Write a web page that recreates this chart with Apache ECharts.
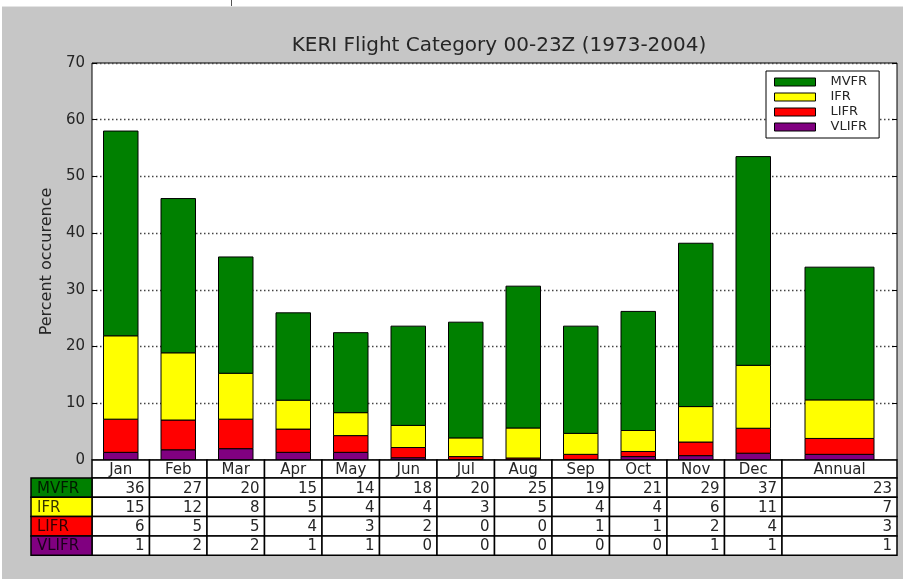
<!DOCTYPE html>
<html>
<head>
<meta charset="utf-8">
<script src="https://cdn.jsdelivr.net/npm/echarts@6/dist/echarts.min.js"></script>
<style>
  html, body { margin: 0; padding: 0; background: #ffffff; }
  #main { width: 903px; height: 579px; }
</style>
</head>
<body>
<div id="main"></div>
<script>
// categories (Annual takes two slots in the picture)
const categories = ['Jan', 'Feb', 'Mar', 'Apr', 'May', 'Jun', 'Jul', 'Aug', 'Sep', 'Oct', 'Nov', 'Dec', 'Annual'];

// bar heights, percent
const vlifr = [1.35, 1.8, 2.0, 1.35, 1.35, 0.4, 0.1, 0.05, 0.1, 0.6, 0.77, 1.2, 1.0];
const lifr  = [5.85, 5.25, 5.2, 4.1, 2.95, 1.8, 0.5, 0.3, 0.9, 0.9, 2.4, 4.4, 2.8];
const ifr   = [14.7, 11.85, 8.1, 5.1, 4.05, 3.9, 3.3, 5.3, 3.7, 3.7, 6.25, 11.1, 6.8];
const mvfr  = [36.1, 27.2, 20.5, 15.4, 14.1, 17.5, 20.4, 25.0, 18.9, 21.0, 28.8, 36.8, 23.4];

// rounded numbers printed in the table
const tableMVFR  = [36, 27, 20, 15, 14, 18, 20, 25, 19, 21, 29, 37, 23];
const tableIFR   = [15, 12, 8, 5, 4, 4, 3, 5, 4, 4, 6, 11, 7];
const tableLIFR  = [6, 5, 5, 4, 3, 2, 0, 0, 1, 1, 2, 4, 3];
const tableVLIFR = [1, 2, 2, 1, 1, 0, 0, 0, 0, 0, 1, 1, 1];

const yTicks = [0, 10, 20, 30, 40, 50, 60, 70];

const FONT = '"DejaVu Sans", "Liberation Sans", sans-serif';
const TXT = '#262626';

// layer order bottom -> top
const layers = [
    { name: 'VLIFR', color: '#800080', values: vlifr, table: tableVLIFR },
    { name: 'LIFR', color: '#ff0000', values: lifr, table: tableLIFR },
    { name: 'IFR', color: '#ffff00', values: ifr, table: tableIFR },
    { name: 'MVFR', color: '#008000', values: mvfr, table: tableMVFR }
];

// slot position of each category on the x value axis
function slotOf(i) {
    if (categories[i] === 'Annual') return { start: 12, span: 2 };
    return { start: i, span: 1 };
}

// build stacked [center, bottom, top, width] rows
const cum = categories.map(() => 0);
const series = layers.map(function (layer) {
    const data = categories.map(function (c, i) {
        const s = slotOf(i);
        const bottom = cum[i];
        cum[i] += layer.values[i];
        return [s.start + s.span / 2, bottom, cum[i], 0.6 * s.span];
    });
    return {
        name: layer.name,
        type: 'custom',
        itemStyle: { color: layer.color, borderColor: '#000', borderWidth: 1 },
        encode: { x: 0, y: [1, 2] },
        data: data,
        renderItem: function (params, api) {
            const x = api.value(0), y0 = api.value(1), y1 = api.value(2), w = api.value(3);
            const p0 = api.coord([x - w / 2, y1]);
            const p1 = api.coord([x + w / 2, y0]);
            return {
                type: 'rect',
                shape: { x: p0[0], y: p0[1], width: p1[0] - p0[0], height: p1[1] - p0[1] },
                style: { fill: layer.color, stroke: '#000', lineWidth: 1 }
            };
        }
    };
});

const chart = echarts.init(document.getElementById('main'), null, { renderer: 'canvas' });

const option = {
    animation: false,
    backgroundColor: '#c6c6c6',
    title: {
        text: 'KERI Flight Category 00-23Z (1973-2004)',
        left: 494,
        top: 31,
        textAlign: 'center',
        textStyle: { fontFamily: FONT, fontSize: 20, fontWeight: 'normal', color: TXT }
    },
    legend: {
        orient: 'vertical',
        left: 766,
        top: 71,
        padding: [4, 12, 4, 8],
        itemWidth: 41,
        itemHeight: 8,
        itemGap: 1,
        backgroundColor: '#fff',
        borderColor: '#000',
        borderWidth: 1,
        textStyle: { fontFamily: FONT, fontSize: 13, color: TXT, lineHeight: 14, padding: [0, 0, 0, 10] },
        data: layers.slice().reverse().map(function (l) {
            return { name: l.name, icon: 'rect', itemStyle: { color: l.color, borderColor: '#000', borderWidth: 1 } };
        })
    },
    grid: {
        left: 92, top: 63, right: 6, bottom: 119,
        show: true, backgroundColor: '#fff', borderColor: '#000', borderWidth: 1
    },
    xAxis: { type: 'value', min: 0, max: 14, show: false },
    yAxis: [
        {
            type: 'value', min: 0, max: 70, interval: 10,
            name: 'Percent occurence',
            nameLocation: 'middle',
            nameGap: 32,
            nameTextStyle: { fontFamily: FONT, fontSize: 16, color: TXT },
            axisLine: { show: false },
            axisTick: { show: true, inside: true, length: 5, lineStyle: { color: '#000' } },
            axisLabel: {
                fontFamily: FONT, fontSize: 15, color: TXT, margin: 7,
                formatter: function (v) { return yTicks.indexOf(v) >= 0 ? String(v) : ''; }
            },
            splitLine: {
                show: true,
                lineStyle: { color: '#444', width: 1.3, type: [1.5, 2.5] }
            }
        },
        {
            type: 'value', min: 0, max: 70, interval: 10, position: 'right',
            axisLine: { show: false },
            axisTick: { show: true, inside: true, length: 5, lineStyle: { color: '#000' } },
            axisLabel: { show: false },
            splitLine: { show: false }
        }
    ],
    series: series
};

chart.setOption(option);

// the table below the plot, aligned to the x axis slots
function buildTable() {
    const g = [];
    const font = '15px ' + FONT;
    const bottomY = chart.convertToPixel({ gridIndex: 0 }, [0, 0])[1];
    const headH = 18;
    const rowH = 19.3;
    const labelLeft = 31;
    const labelRight = chart.convertToPixel({ gridIndex: 0 }, [0, 0])[0];

    // white strip at the very top of the image
    g.push({ type: 'rect', shape: { x: 0, y: 0, width: 903, height: 6 }, style: { fill: '#fff' }, z: 100 });
    g.push({ type: 'rect', shape: { x: 0, y: 6, width: 903, height: 1 }, style: { fill: '#e4e4e4' }, z: 100 });
    g.push({ type: 'rect', shape: { x: 0, y: 0, width: 2, height: 579 }, style: { fill: '#fff' }, z: 100 });
    g.push({ type: 'line', shape: { x1: 231.5, y1: 0, x2: 231.5, y2: 6 }, style: { stroke: '#555', lineWidth: 1 }, z: 100 });

    categories.forEach(function (c, i) {
        const s = slotOf(i);
        const x0 = chart.convertToPixel({ gridIndex: 0 }, [s.start, 0])[0];
        const x1 = chart.convertToPixel({ gridIndex: 0 }, [s.start + s.span, 0])[0];
        // header cell
        g.push({ type: 'rect', shape: { x: x0, y: bottomY, width: x1 - x0, height: headH },
            style: { fill: '#fff', stroke: '#000', lineWidth: 1.5 }, z: 10 });
        g.push({ type: 'text', x: (x0 + x1) / 2, y: bottomY + headH / 2 + 1,
            style: { text: c, font: font, fill: TXT, align: 'center', verticalAlign: 'middle' }, z: 11 });
        // value cells, MVFR first
        layers.slice().reverse().forEach(function (l, r) {
            const y = bottomY + headH + r * rowH;
            g.push({ type: 'rect', shape: { x: x0, y: y, width: x1 - x0, height: rowH },
                style: { fill: '#fff', stroke: '#000', lineWidth: 1.5 }, z: 10 });
            g.push({ type: 'text', x: x1 - 5, y: y + rowH / 2 + 1,
                style: { text: String(l.table[i]), font: font, fill: TXT, align: 'right', verticalAlign: 'middle' }, z: 11 });
        });
    });

    // row label cells
    layers.slice().reverse().forEach(function (l, r) {
        const y = bottomY + headH + r * rowH;
        g.push({ type: 'rect', shape: { x: labelLeft, y: y, width: labelRight - labelLeft, height: rowH },
            style: { fill: l.color, stroke: '#000', lineWidth: 1.5 }, z: 10 });
        g.push({ type: 'text', x: labelLeft + 6, y: y + rowH / 2 + 1,
            style: { text: l.name, font: font, fill: 'rgba(0,0,0,0.8)', align: 'left', verticalAlign: 'middle' }, z: 11 });
    });

    chart.setOption({ graphic: g });
}

buildTable();
</script>
</body>
</html>
